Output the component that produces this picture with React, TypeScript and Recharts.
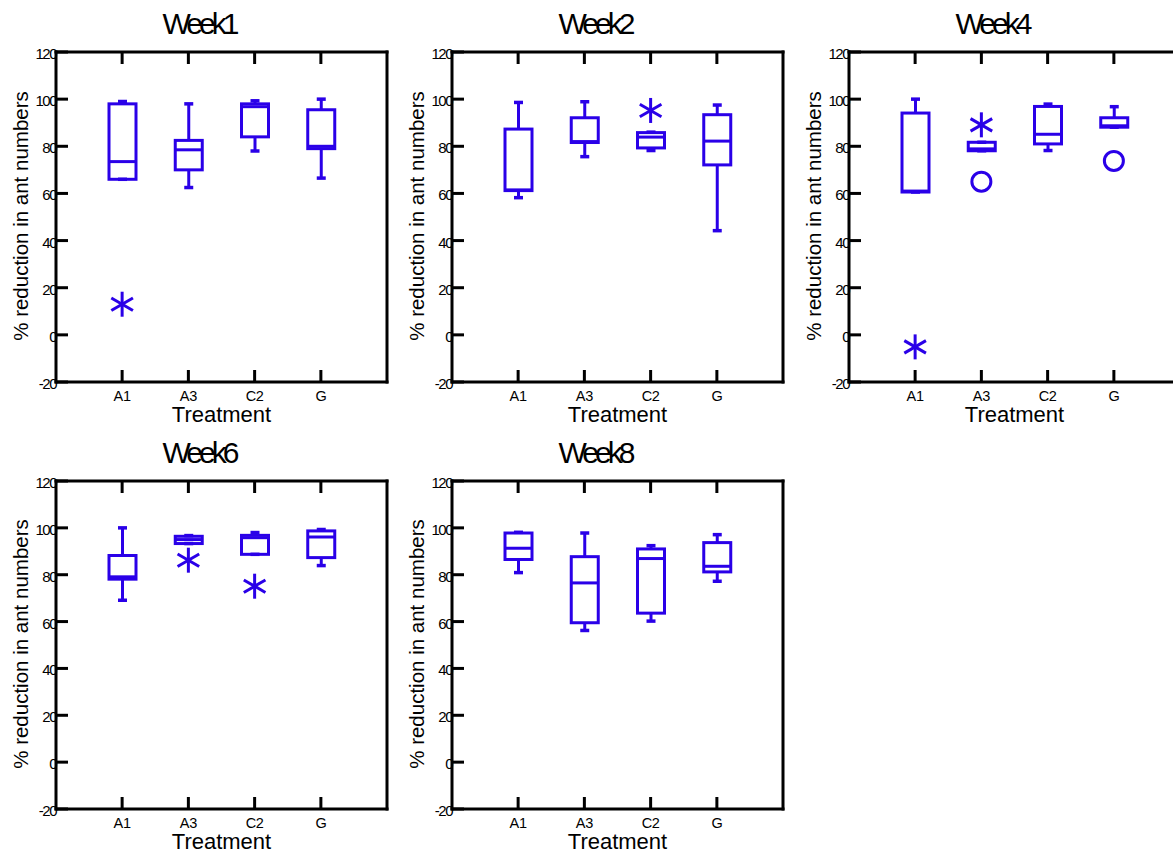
import React from 'react';
import { ComposedChart, Bar, Scatter, XAxis, YAxis } from 'recharts';

const TREATMENTS = ['A1', 'A3', 'C2', 'G'];
const Y_TICKS = [-20, 0, 20, 40, 60, 80, 100, 120];

// per treatment: [lower whisker, q1, median, q3, upper whisker]
const WEEK1_BOXES = [
  [66, 66, 73.5, 98, 99],
  [62.5, 70, 78.5, 82.5, 98],
  [78, 84, 96.8, 98, 99.3],
  [66.5, 79, 80, 95.5, 100],
];
const WEEK1_STARS = [13, null, null, null];
const WEEK1_CIRCLES = [null, null, null, null];

const WEEK2_BOXES = [
  [58.2, 61.2, 61.5, 87.3, 98.6],
  [75.6, 81.6, 82, 92.1, 98.9],
  [78.2, 79.3, 83.9, 85.8, 86],
  [44.2, 72.1, 82.2, 93.4, 97.5],
];
const WEEK2_STARS = [null, null, 95.2, null];
const WEEK2_CIRCLES = [null, null, null, null];

const WEEK4_BOXES = [
  [60.6, 60.6, 61, 94.1, 100],
  [78.1, 78.1, 78.9, 81.7, 81.7],
  [78.2, 81, 85.1, 96.9, 97.9],
  [88.1, 88.1, 88.7, 92.1, 96.8],
];
const WEEK4_STARS = [-5.1, 89.1, null, null];
const WEEK4_CIRCLES = [null, 65, null, 73.8];

const WEEK6_BOXES = [
  [69.1, 78.1, 79.1, 88.2, 100],
  [93.3, 93.3, 95, 96.4, 96.7],
  [88.7, 88.7, 95.8, 96.8, 98],
  [83.9, 87.3, 96.1, 98.7, 99.3],
];
const WEEK6_STARS = [null, 86.2, 75.1, null];
const WEEK6_CIRCLES = [null, null, null, null];

const WEEK8_BOXES = [
  [80.9, 86.5, 91.3, 97.8, 98.1],
  [56.2, 59.5, 76.5, 87.7, 97.8],
  [60.2, 63.6, 86.9, 91, 92.4],
  [77.2, 81.2, 83.6, 93.7, 97.1],
];
const WEEK8_STARS = [null, null, null, null];
const WEEK8_CIRCLES = [null, null, null, null];

const BLUE = '#2a00e8';
const FONT = '"Liberation Sans", Arial, sans-serif';
const PLOT_W = 331;
const TICK = 12;

const PANELS = [
  { title: 'Week1', boxes: WEEK1_BOXES, stars: WEEK1_STARS, circles: WEEK1_CIRCLES, left: 56, top: 52, h: 330 },
  { title: 'Week2', boxes: WEEK2_BOXES, stars: WEEK2_STARS, circles: WEEK2_CIRCLES, left: 452, top: 52, h: 330 },
  { title: 'Week4', boxes: WEEK4_BOXES, stars: WEEK4_STARS, circles: WEEK4_CIRCLES, left: 849, top: 52, h: 330 },
  { title: 'Week6', boxes: WEEK6_BOXES, stars: WEEK6_STARS, circles: WEEK6_CIRCLES, left: 56, top: 481, h: 328 },
  { title: 'Week8', boxes: WEEK8_BOXES, stars: WEEK8_STARS, circles: WEEK8_CIRCLES, left: 452, top: 481, h: 328 },
];

function buildRows(boxes: number[][], stars: (number | null)[], circles: (number | null)[]) {
  return TREATMENTS.map((name, i) => ({
    name,
    lo: boxes[i][0],
    q1: boxes[i][1],
    med: boxes[i][2],
    q3: boxes[i][3],
    hi: boxes[i][4],
    star: stars[i],
    circle: circles[i],
  }));
}

const LeftTick = (p: any) => (
  <g>
    <line x1={p.x} y1={p.y} x2={p.x + TICK} y2={p.y} stroke="#000" strokeWidth={3} />
    <text x={p.x} y={p.y + 7} textAnchor="end" fontSize={15} letterSpacing={-1.5} fill="#000" fontFamily={FONT}>
      {p.payload.value}
    </text>
  </g>
);

const RightTick = (p: any) => (
  <line x1={p.x} y1={p.y} x2={p.x - TICK} y2={p.y} stroke="#000" strokeWidth={3} />
);

const BottomTick = (p: any) => (
  <g>
    <line x1={p.x} y1={p.y} x2={p.x} y2={p.y - TICK} stroke="#000" strokeWidth={3} />
    <text x={p.x} y={p.y + 19} textAnchor="middle" fontSize={14.5} letterSpacing={-0.3} fill="#000" fontFamily={FONT}>
      {p.payload.value}
    </text>
  </g>
);

const TopTick = (p: any) => (
  <line x1={p.x} y1={p.y} x2={p.x} y2={p.y + TICK} stroke="#000" strokeWidth={3} />
);

// box drawn inside the [lo, hi] range bar, positions follow the bar's own scale
const BoxShape = (p: any) => {
  const d = p.payload ?? p;
  const top = p.height < 0 ? p.y + p.height : p.y;
  const h = Math.abs(p.height);
  const span = d.hi - d.lo || 1;
  const py = (v: number) => top + (h * (d.hi - v)) / span;
  const cx = p.x + p.width / 2;
  const yHi = py(d.hi);
  const yQ3 = py(d.q3);
  const yMed = py(d.med);
  const yQ1 = py(d.q1);
  const yLo = py(d.lo);
  return (
    <g stroke={BLUE} strokeWidth={3} fill="none">
      <line x1={cx} x2={cx} y1={yHi} y2={yQ3} />
      <line x1={cx} x2={cx} y1={yQ1} y2={yLo} />
      <line x1={cx - 4.5} x2={cx + 4.5} y1={yHi} y2={yHi} strokeWidth={3.5} />
      <line x1={cx - 4.5} x2={cx + 4.5} y1={yLo} y2={yLo} strokeWidth={3.5} />
      <rect x={p.x} y={yQ3} width={p.width} height={Math.max(yQ1 - yQ3, 0)} />
      <line x1={p.x} x2={p.x + p.width} y1={yMed} y2={yMed} />
    </g>
  );
};

const StarShape = (p: any) => {
  if (p.payload?.star == null) return <g />;
  const r = 12.5;
  const dx = r * Math.cos(Math.PI / 6);
  const dy = r * Math.sin(Math.PI / 6);
  return (
    <g stroke={BLUE} strokeWidth={3}>
      <line x1={p.cx} y1={p.cy - r} x2={p.cx} y2={p.cy + r} />
      <line x1={p.cx - dx} y1={p.cy - dy} x2={p.cx + dx} y2={p.cy + dy} />
      <line x1={p.cx - dx} y1={p.cy + dy} x2={p.cx + dx} y2={p.cy - dy} />
    </g>
  );
};

const CircleShape = (p: any) => {
  if (p.payload?.circle == null) return <g />;
  return <circle cx={p.cx} cy={p.cy} r={9.5} stroke={BLUE} strokeWidth={3} fill="none" />;
};

function Panel({ cfg }: { cfg: (typeof PANELS)[number] }) {
  const rows = buildRows(cfg.boxes, cfg.stars, cfg.circles);
  const W = 400;
  const H = 430;
  // axes need a size of at least 1px to be drawn, the margins absorb it
  const axisLine = { stroke: '#000', strokeWidth: 3, strokeLinecap: 'square' as const };
  return (
    <div style={{ position: 'absolute', left: cfg.left - 56, top: cfg.top - 52, width: W, height: H }}>
      <ComposedChart
        width={W}
        height={H}
        data={rows}
        margin={{ top: 51, left: 55, right: W - 56 - PLOT_W - 1, bottom: H - 52 - cfg.h - 1 }}
      >
        <XAxis
          xAxisId="b"
          dataKey="name"
          height={1}
          padding={{ left: 33, right: 33 }}
          axisLine={axisLine}
          tickLine={false}
          tickSize={0}
          tickMargin={0}
          interval={0}
          tick={BottomTick}
        />
        <XAxis
          xAxisId="t"
          orientation="top"
          dataKey="name"
          height={1}
          padding={{ left: 33, right: 33 }}
          axisLine={axisLine}
          tickLine={false}
          tickSize={0}
          tickMargin={0}
          interval={0}
          tick={TopTick}
        />
        <YAxis
          yAxisId="l"
          width={1}
          domain={[-20, 120]}
          ticks={Y_TICKS}
          interval={0}
          axisLine={axisLine}
          tickLine={false}
          tickSize={0}
          tickMargin={0}
          tick={LeftTick}
        />
        <YAxis
          yAxisId="r"
          orientation="right"
          width={1}
          domain={[-20, 120]}
          ticks={Y_TICKS}
          interval={0}
          axisLine={axisLine}
          tickLine={false}
          tickSize={0}
          tickMargin={0}
          tick={RightTick}
        />
        <Bar
          xAxisId="b"
          yAxisId="l"
          dataKey={(d: any) => [d.lo, d.hi]}
          barSize={27}
          shape={BoxShape}
          isAnimationActive={false}
        />
        <Scatter xAxisId="b" yAxisId="l" dataKey="star" shape={StarShape} isAnimationActive={false} />
        <Scatter xAxisId="b" yAxisId="l" dataKey="circle" shape={CircleShape} isAnimationActive={false} />
      </ComposedChart>
    </div>
  );
}

export default function App() {
  return (
    <div
      style={{
        position: 'fixed',
        left: 0,
        top: 0,
        width: 1173,
        height: 856,
        overflow: 'hidden',
        background: '#fff',
        fontFamily: FONT,
      }}
    >
      {PANELS.map((cfg) => (
        <Panel key={cfg.title} cfg={cfg} />
      ))}
      <svg
        width={1173}
        height={856}
        style={{ position: 'absolute', left: 0, top: 0, pointerEvents: 'none' }}
        fontFamily={FONT}
      >
        {PANELS.map((cfg) => (
          <g key={cfg.title}>
            <text x={cfg.left + 143} y={cfg.top - 18} textAnchor="middle" fontSize={30} letterSpacing={-4} fill="#000">
              {cfg.title}
            </text>
            <text x={cfg.left + PLOT_W / 2} y={cfg.top + cfg.h + 40} textAnchor="middle" fontSize={22} fill="#000">
              Treatment
            </text>
            <text
              x={cfg.left - 28}
              y={cfg.top + cfg.h / 2 - 1}
              transform={`rotate(-90 ${cfg.left - 28} ${cfg.top + cfg.h / 2 - 1})`}
              textAnchor="middle"
              fontSize={20.5}
              fill="#000"
            >
              % reduction in ant numbers
            </text>
          </g>
        ))}
      </svg>
    </div>
  );
}
